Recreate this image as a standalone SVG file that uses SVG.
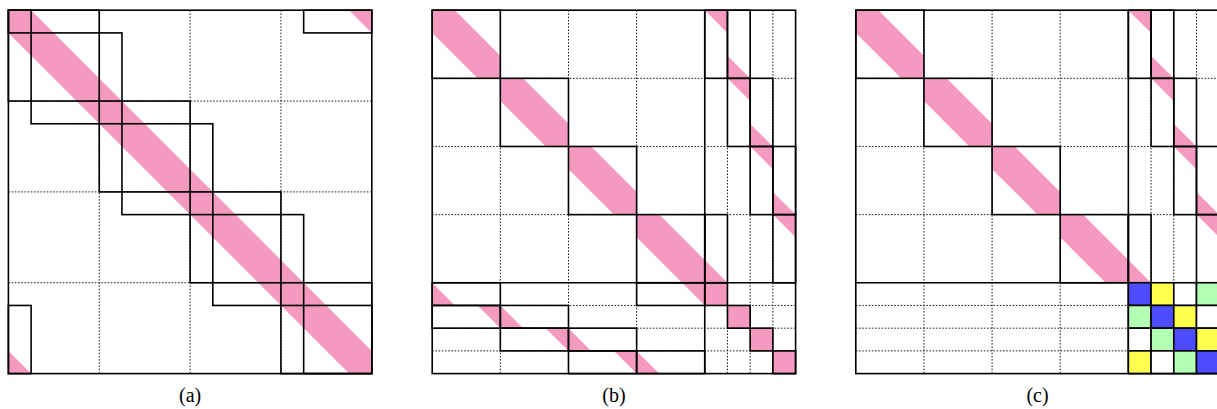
<svg xmlns="http://www.w3.org/2000/svg" xmlns:xlink="http://www.w3.org/1999/xlink" width="1217" height="409" viewBox="0 0 1217 409">
<style>
.pk{fill:#f49ac1;stroke:none}
.dash{stroke:#222;stroke-width:1;stroke-dasharray:1.6 1.6;fill:none}
.bx{fill:none;stroke:#000;stroke-width:1.6}
.fr{fill:none;stroke:#000;stroke-width:1.6}
.bl{fill:#4d4dff;stroke:#000;stroke-width:1.6}
.ye{fill:#ffff4d;stroke:#000;stroke-width:1.6}
.gr{fill:#b3ffb3;stroke:#000;stroke-width:1.6}
.wh{fill:#fff;stroke:#000;stroke-width:1.6}
.lab{font-family:"Liberation Serif","DejaVu Serif",serif;font-size:20px;fill:#000;text-anchor:middle}
</style>
<defs>
<polygon id="band" points="0,0 22.71,0 68.14,45.43 68.14,68.14 45.43,68.14 0,22.71"/>
<polygon id="t1" points="0,0 22.71,0 22.71,22.71"/>
<polygon id="t2" points="0,0 0,22.71 22.71,22.71"/>
</defs>
<rect width="1217" height="409" fill="#fff"/>

<!-- Panel (a) -->
<g id="panel-a" transform="translate(8.4,10.2)">
<g id="a-pink" class="pk">
<polygon points="0,0 22.71,0 363.4,340.69 363.4,363.4 340.69,363.4 0,22.71"/>
<use xlink:href="#t1" x="340.69" y="0"/>
<use xlink:href="#t2" x="0" y="340.69"/>
</g>
<g id="a-grid" class="dash">
<line x1="90.85" y1="0" x2="90.85" y2="363.4"/>
<line x1="181.7" y1="0" x2="181.7" y2="363.4"/>
<line x1="272.55" y1="0" x2="272.55" y2="363.4"/>
<line x1="0" y1="90.85" x2="363.4" y2="90.85"/>
<line x1="0" y1="181.7" x2="363.4" y2="181.7"/>
<line x1="0" y1="272.55" x2="363.4" y2="272.55"/>
</g>
<g id="a-boxes" class="bx">
<rect x="0" y="0" width="90.85" height="90.85"/>
<rect x="22.71" y="22.71" width="90.85" height="90.85"/>
<rect x="90.85" y="90.85" width="90.85" height="90.85"/>
<rect x="113.56" y="113.56" width="90.85" height="90.85"/>
<rect x="181.7" y="181.7" width="90.85" height="90.85"/>
<rect x="204.41" y="204.41" width="90.85" height="90.85"/>
<rect x="272.55" y="272.55" width="90.85" height="90.85"/>
<rect x="295.26" y="295.26" width="68.14" height="68.14"/>
<rect x="295.26" y="0" width="68.14" height="22.71"/>
<rect x="0" y="295.26" width="22.71" height="68.14"/>
<rect x="0" y="0" width="22.71" height="22.71"/>
</g>
<rect class="fr" x="0" y="0" width="363.4" height="363.4"/>
</g>

<!-- Panel (b) -->
<g id="panel-b" transform="translate(432.2,10.2)">
<g id="b-pink" class="pk">
<use xlink:href="#band" x="0" y="0"/>
<use xlink:href="#band" x="68.14" y="68.14"/>
<use xlink:href="#band" x="136.28" y="136.28"/>
<use xlink:href="#band" x="204.41" y="204.41"/>
<use xlink:href="#t1" x="272.55" y="0"/>
<use xlink:href="#t1" x="295.26" y="68.14"/>
<use xlink:href="#t1" x="317.98" y="136.28"/>
<use xlink:href="#t1" x="340.69" y="204.41"/>
<use xlink:href="#t2" x="295.26" y="45.43"/>
<use xlink:href="#t2" x="317.98" y="113.56"/>
<use xlink:href="#t2" x="340.69" y="181.7"/>
<use xlink:href="#t2" x="272.55" y="249.84"/>
<use xlink:href="#t1" x="249.84" y="272.55"/>
<use xlink:href="#t1" x="45.43" y="295.26"/>
<use xlink:href="#t1" x="113.56" y="317.98"/>
<use xlink:href="#t1" x="181.7" y="340.69"/>
<use xlink:href="#t2" x="0" y="272.55"/>
<use xlink:href="#t2" x="68.14" y="295.26"/>
<use xlink:href="#t2" x="136.28" y="317.98"/>
<use xlink:href="#t2" x="204.41" y="340.69"/>
<rect x="272.55" y="272.55" width="22.71" height="22.71"/>
<rect x="295.26" y="295.26" width="22.71" height="22.71"/>
<rect x="317.98" y="317.98" width="22.71" height="22.71"/>
<rect x="340.69" y="340.69" width="22.71" height="22.71"/>
</g>
<g id="b-grid" class="dash">
<line x1="68.14" y1="0" x2="68.14" y2="363.4"/>
<line x1="136.28" y1="0" x2="136.28" y2="363.4"/>
<line x1="204.41" y1="0" x2="204.41" y2="363.4"/>
<line x1="295.26" y1="0" x2="295.26" y2="363.4"/>
<line x1="317.98" y1="0" x2="317.98" y2="363.4"/>
<line x1="340.69" y1="0" x2="340.69" y2="363.4"/>
<line x1="0" y1="68.14" x2="363.4" y2="68.14"/>
<line x1="0" y1="136.28" x2="363.4" y2="136.28"/>
<line x1="0" y1="204.41" x2="363.4" y2="204.41"/>
<line x1="0" y1="295.26" x2="363.4" y2="295.26"/>
<line x1="0" y1="317.98" x2="363.4" y2="317.98"/>
<line x1="0" y1="340.69" x2="363.4" y2="340.69"/>
</g>
<g id="b-boxes" class="bx">
<rect x="0" y="0" width="68.14" height="68.14"/>
<rect x="68.14" y="68.14" width="68.14" height="68.14"/>
<rect x="136.28" y="136.28" width="68.14" height="68.14"/>
<rect x="204.41" y="204.41" width="68.14" height="68.14"/>
<rect x="272.55" y="0" width="22.71" height="68.14"/>
<rect x="295.26" y="0" width="22.71" height="68.14"/>
<rect x="295.26" y="68.14" width="22.71" height="68.14"/>
<rect x="317.98" y="68.14" width="22.71" height="68.14"/>
<rect x="317.98" y="136.28" width="22.71" height="68.14"/>
<rect x="340.69" y="136.28" width="22.71" height="68.14"/>
<rect x="340.69" y="204.41" width="22.71" height="68.14"/>
<rect x="272.55" y="204.41" width="22.71" height="68.14"/>
<rect x="0" y="272.55" width="68.14" height="22.71"/>
<rect x="0" y="295.26" width="68.14" height="22.71"/>
<rect x="68.14" y="295.26" width="68.14" height="22.71"/>
<rect x="68.14" y="317.98" width="68.14" height="22.71"/>
<rect x="136.28" y="317.98" width="68.14" height="22.71"/>
<rect x="136.28" y="340.69" width="68.14" height="22.71"/>
<rect x="204.41" y="340.69" width="68.14" height="22.71"/>
<rect x="204.41" y="272.55" width="68.14" height="22.71"/>
<rect x="272.55" y="272.55" width="22.71" height="22.71"/>
<rect x="295.26" y="295.26" width="22.71" height="22.71"/>
<rect x="317.98" y="317.98" width="22.71" height="22.71"/>
<rect x="340.69" y="340.69" width="22.71" height="22.71"/>
<line x1="272.55" y1="0" x2="272.55" y2="363.4"/>
<line x1="0" y1="272.55" x2="363.4" y2="272.55"/>
</g>
<rect class="fr" x="0" y="0" width="363.4" height="363.4"/>
</g>

<!-- Panel (c) -->
<g id="panel-c" transform="translate(855.8,10.2)">
<g id="c-pink" class="pk">
<use xlink:href="#band" x="0" y="0"/>
<use xlink:href="#band" x="68.14" y="68.14"/>
<use xlink:href="#band" x="136.28" y="136.28"/>
<use xlink:href="#band" x="204.41" y="204.41"/>
<use xlink:href="#t1" x="272.55" y="0"/>
<use xlink:href="#t1" x="295.26" y="68.14"/>
<use xlink:href="#t1" x="317.98" y="136.28"/>
<use xlink:href="#t1" x="340.69" y="204.41"/>
<use xlink:href="#t2" x="295.26" y="45.43"/>
<use xlink:href="#t2" x="317.98" y="113.56"/>
<use xlink:href="#t2" x="340.69" y="181.7"/>
<use xlink:href="#t2" x="272.55" y="249.84"/>
</g>
<g id="c-grid" class="dash">
<line x1="68.14" y1="0" x2="68.14" y2="363.4"/>
<line x1="136.28" y1="0" x2="136.28" y2="363.4"/>
<line x1="204.41" y1="0" x2="204.41" y2="363.4"/>
<line x1="295.26" y1="0" x2="295.26" y2="363.4"/>
<line x1="317.98" y1="0" x2="317.98" y2="363.4"/>
<line x1="340.69" y1="0" x2="340.69" y2="363.4"/>
<line x1="0" y1="68.14" x2="363.4" y2="68.14"/>
<line x1="0" y1="136.28" x2="363.4" y2="136.28"/>
<line x1="0" y1="204.41" x2="363.4" y2="204.41"/>
<line x1="0" y1="295.26" x2="363.4" y2="295.26"/>
<line x1="0" y1="317.98" x2="363.4" y2="317.98"/>
<line x1="0" y1="340.69" x2="363.4" y2="340.69"/>
</g>
<g id="c-boxes" class="bx">
<rect x="0" y="0" width="68.14" height="68.14"/>
<rect x="68.14" y="68.14" width="68.14" height="68.14"/>
<rect x="136.28" y="136.28" width="68.14" height="68.14"/>
<rect x="204.41" y="204.41" width="68.14" height="68.14"/>
<rect x="272.55" y="0" width="22.71" height="68.14"/>
<rect x="295.26" y="0" width="22.71" height="68.14"/>
<rect x="295.26" y="68.14" width="22.71" height="68.14"/>
<rect x="317.98" y="68.14" width="22.71" height="68.14"/>
<rect x="317.98" y="136.28" width="22.71" height="68.14"/>
<rect x="340.69" y="136.28" width="22.71" height="68.14"/>
<rect x="340.69" y="204.41" width="22.71" height="68.14"/>
<rect x="272.55" y="204.41" width="22.71" height="68.14"/>
<line x1="272.55" y1="0" x2="272.55" y2="363.4"/>
<line x1="0" y1="272.55" x2="363.4" y2="272.55"/>
</g>
<g id="c-colors">
<rect class="bl" x="272.55" y="272.55" width="22.71" height="22.71"/>
<rect class="ye" x="295.26" y="272.55" width="22.71" height="22.71"/>
<rect class="wh" x="317.98" y="272.55" width="22.71" height="22.71"/>
<rect class="gr" x="340.69" y="272.55" width="22.71" height="22.71"/>
<rect class="gr" x="272.55" y="295.26" width="22.71" height="22.71"/>
<rect class="bl" x="295.26" y="295.26" width="22.71" height="22.71"/>
<rect class="ye" x="317.98" y="295.26" width="22.71" height="22.71"/>
<rect class="wh" x="340.69" y="295.26" width="22.71" height="22.71"/>
<rect class="wh" x="272.55" y="317.98" width="22.71" height="22.71"/>
<rect class="gr" x="295.26" y="317.98" width="22.71" height="22.71"/>
<rect class="bl" x="317.98" y="317.98" width="22.71" height="22.71"/>
<rect class="ye" x="340.69" y="317.98" width="22.71" height="22.71"/>
<rect class="ye" x="272.55" y="340.69" width="22.71" height="22.71"/>
<rect class="wh" x="295.26" y="340.69" width="22.71" height="22.71"/>
<rect class="gr" x="317.98" y="340.69" width="22.71" height="22.71"/>
<rect class="bl" x="340.69" y="340.69" width="22.71" height="22.71"/>
</g>
<rect class="fr" x="0" y="0" width="363.4" height="363.4"/>
</g>

<g id="labels">
<text class="lab" x="190.1" y="402">(a)</text>
<text class="lab" x="613.9" y="402">(b)</text>
<text class="lab" x="1037.5" y="402">(c)</text>
</g>
</svg>
